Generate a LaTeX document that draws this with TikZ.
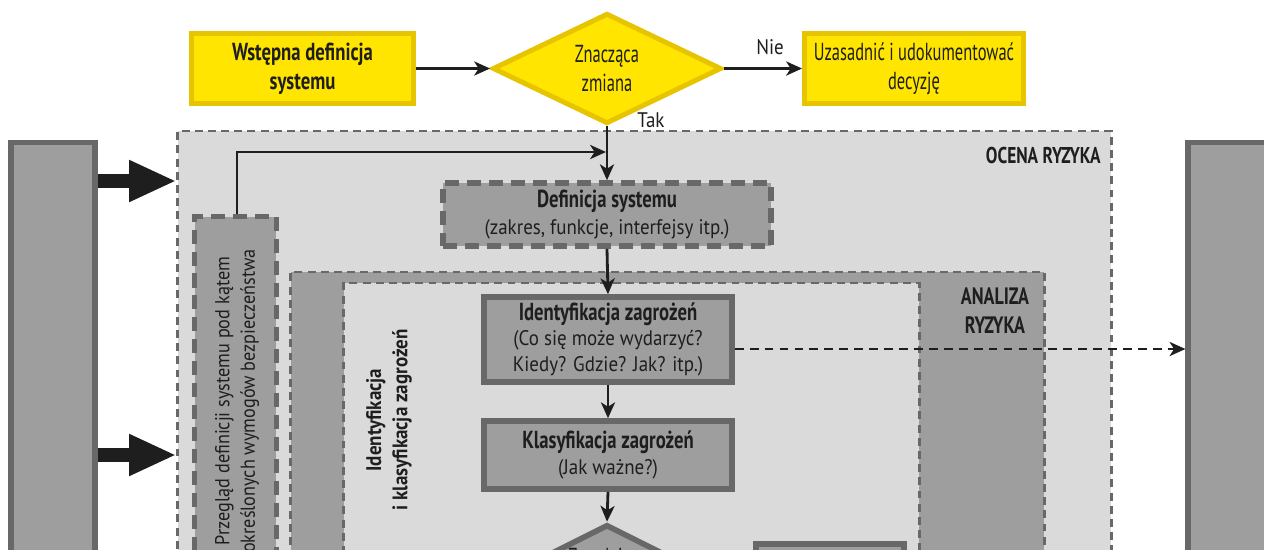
\documentclass[tikz,border=0pt]{standalone}
\usepackage{fontspec}
\setmainfont{PT Sans}[FakeStretch=0.9]
\newfontfamily\cond{PT Sans}[FakeStretch=0.76]
\newfontfamily\condr{PT Sans}[FakeStretch=0.67]
\usetikzlibrary{shapes.geometric,arrows.meta}
\definecolor{ylw}{HTML}{FFE500}
\definecolor{ylwb}{HTML}{E6C400}
\definecolor{lgray}{HTML}{DADADA}
\definecolor{mgray}{HTML}{9E9E9E}
\definecolor{dgray}{HTML}{686868}
\definecolor{ink}{HTML}{1E1E1E}
\newcommand\ttl{\cond\bfseries\fontsize{14}{16}\selectfont}
\newcommand\bdy{\normalfont\fontsize{12}{15.5}\selectfont}
\tikzset{
  ybox/.style={draw=ylwb, fill=ylw, line width=2.8pt, inner sep=0pt, align=center, text=ink},
  gbox/.style={draw=dgray, fill=mgray, line width=3.2pt, inner sep=0pt, align=center, text=ink},
  dbox/.style={gbox, dash pattern=on 8pt off 4.5pt},
  region/.style={draw=dgray, line width=1.3pt, dash pattern=on 4.5pt off 3pt},
  arr/.style={draw=ink, line width=1.6pt, -{Stealth[length=9pt,width=8pt,inset=2.5pt]}},
  darr/.style={arr, dash pattern=on 5pt off 3.5pt},
  bigarr/.style={draw=ink, line width=8pt, -{Triangle[length=27pt,width=22pt]}},
  lbl/.style={inner sep=0pt, text=ink, align=center},
}
\begin{document}
\begin{tikzpicture}[x=0.02cm,y=-0.02cm]
\useasboundingbox (0,0) rectangle (1264,549);
\clip (0,0) rectangle (1264,549);
% outer side boxes
\node[gbox, minimum width=1.67cm, minimum height=11.13cm] (lbox) at (53,420.5) {};
\node[gbox, minimum width=2.81cm, minimum height=11.13cm] (rbox) at (1258.5,420.5) {};
% regions
\node[region, fill=lgray, minimum width=18.68cm, minimum height=11.38cm] (ocena) at (644.5,415.5) {};
\node[lbl, anchor=north east, font=\cond\bfseries\fontsize{13}{16}\selectfont] (ocenalbl) at (1101,147) {OCENA RYZYKA};
\node[dbox, minimum width=1.64cm, minimum height=9.64cm] (przeglad) at (235.5,457.5) {};
\node[lbl, rotate=90, font=\fontsize{11.5}{14.5}\selectfont] (przegladlbl) at (237,401) {Przegląd definicji systemu pod kątem\\określonych wymogów bezpieczeństwa};
\node[region, fill=mgray, minimum width=15.08cm, minimum height=8.56cm] (analiza) at (667.5,486) {};
\node[region, fill=lgray, minimum width=11.52cm, minimum height=8.34cm] (identreg) at (631.5,491.5) {};
\node[lbl, anchor=north, font=\cond\bfseries\fontsize{13.5}{16.5}\selectfont] (analizalbl) at (995,287) {ANALIZA\\RYZYKA};
\node[lbl, rotate=90, font=\bfseries\fontsize{12}{15}\selectfont] (identlbl) at (389,420) {Identyfikacja\\i klasyfikacja zagrożeń};
% top row
\node[ybox, minimum width=4.44cm, minimum height=1.4cm, font=\cond\bfseries\fontsize{14}{16.5}\selectfont] (wst) at (302.5,68.5) {Wstępna definicja\\systemu};
\node[ybox, shape=diamond, minimum width=4.58cm, minimum height=2.0cm, font=\condr\fontsize{14}{16.5}\selectfont] (zm) at (607,68.5) {Znacząca\\zmiana};
\node[ybox, minimum width=4.38cm, minimum height=1.4cm, font=\condr\fontsize{14}{16.5}\selectfont] (uz) at (914,68.5) {Uzasadnić i udokumentować\\decyzję};
\node[lbl, font=\fontsize{12}{13}\selectfont] (nie) at (770,47) {Nie};
\node[lbl, font=\fontsize{12}{13}\selectfont] (tak) at (651,120) {Tak};
% process boxes
\node[dbox, minimum width=6.56cm, minimum height=1.26cm] (def) at (607,214.5) {\ttl Definicja systemu\\[3pt]\bdy (zakres, funkcje, interfejsy itp.)};
\node[gbox, minimum width=4.96cm, minimum height=1.7cm] (ident) at (608,339.5) {\ttl Identyfikacja zagrożeń\\[2.5pt]\bdy (Co się może wydarzyć?\\[3pt]\bdy Kiedy? Gdzie? Jak? itp.)};
\node[gbox, minimum width=4.96cm, minimum height=1.36cm] (klas) at (608,455) {\ttl Klasyfikacja zagrożeń\\[2.5pt]\bdy (Jak ważne?)};
\node[gbox, shape=diamond, minimum width=4.56cm, minimum height=2.3cm] (dec) at (607,582) {};
\node[lbl, font=\condr\fontsize{14}{16.5}\selectfont] (declbl) at (607,557) {Zasadniczo};
\node[gbox, minimum width=2.96cm, minimum height=1.86cm] (small) at (830,590.5) {};
% connectors
\draw[arr] (wst.east) -- (zm.west);
\draw[arr] (zm.east) -- (uz.west);
\draw[arr] (zm.south) -- (def.north);
\coordinate (fb) at (606,152);
\draw[arr] (przeglad.north -| 237,0) |- (fb);
\draw[arr] (def.south) -- (ident.north);
\draw[arr] (ident.south) -- (klas.north);
\draw[arr] (klas.south) -- (dec.north);
\draw[darr] (ident.east |- 0,349) -- (rbox.west |- 0,349);
\draw[bigarr] (lbox.east |- 0,181) -- (ocena.west |- 0,181);
\draw[bigarr] (lbox.east |- 0,455) -- (ocena.west |- 0,455);
\end{tikzpicture}
\end{document}
